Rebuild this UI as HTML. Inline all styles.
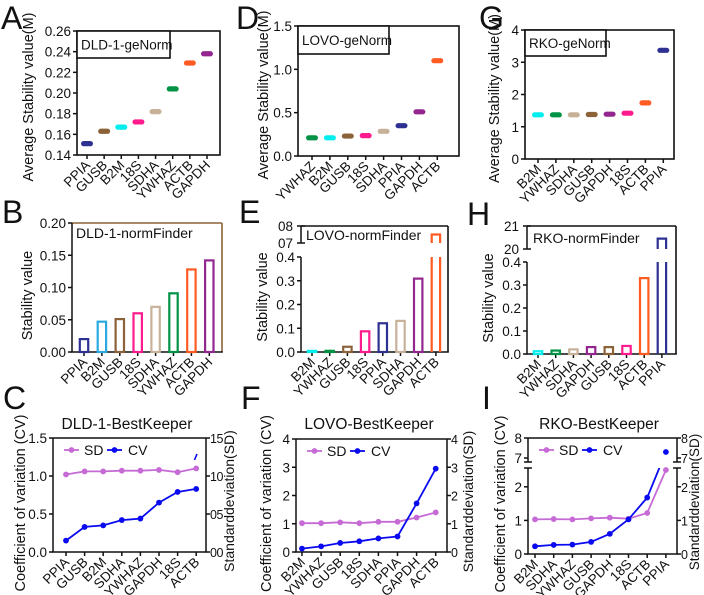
<!DOCTYPE html>
<html><head><meta charset="utf-8"><title>Reference gene stability</title>
<style>html,body{margin:0;padding:0;background:#fff}svg{display:block;font-family:"Liberation Sans",Arial,sans-serif}</style>
</head><body>
<svg id="fig" width="704" height="595" viewBox="0 0 704 595" xmlns="http://www.w3.org/2000/svg"></svg>
<script>
// ---- data ----
const A_genes=["PPIA","GUSB","B2M","18S","SDHA","YWHAZ","ACTB","GAPDH"];
const A_vals=[0.151,0.163,0.167,0.172,0.182,0.204,0.229,0.238];
const A_ticks=[0.14,0.16,0.18,0.20,0.22,0.24,0.26];
const A_tickLabels=["0.14","0.16","0.18","0.20","0.22","0.24","0.26"];
const D_genes=["YWHAZ","B2M","GUSB","18S","SDHA","PPIA","GAPDH","ACTB"];
const D_vals=[0.21,0.21,0.23,0.235,0.285,0.35,0.51,1.10];
const D_ticks=[0,0.5,1.0,1.5];
const D_tickLabels=["0.0","0.5","1.0","1.5"];
const G_genes=["B2M","YWHAZ","SDHA","GUSB","GAPDH","18S","ACTB","PPIA"];
const G_vals=[1.37,1.37,1.37,1.38,1.39,1.42,1.74,3.37];
const G_ticks=[0,1,2,3,4];
const G_tickLabels=["0","1","2","3","4"];
const B_genes=["PPIA","B2M","GUSB","18S","SDHA","YWHAZ","ACTB","GAPDH"];
const B_vals=[0.020,0.047,0.051,0.060,0.070,0.091,0.128,0.142];
const B_ticks=[0,0.05,0.10,0.15,0.20];
const B_tickLabels=["0.00","0.05","0.10","0.15","0.20"];
const E_genes=["B2M","YWHAZ","GUSB","18S","PPIA","SDHA","GAPDH","ACTB"];
const E_vals=[0.005,0.005,0.022,0.087,0.121,0.131,0.309,7.5];
const E_ticks=[0,0.1,0.2,0.3,0.4];
const E_tickLabels=["0.0","0.1","0.2","0.3","0.4"];
const E_upTicks=[7,8];
const E_upLabels=["07","08"];
const H_genes=["B2M","YWHAZ","SDHA","GAPDH","GUSB","18S","ACTB","PPIA"];
const H_vals=[0.012,0.015,0.02,0.03,0.03,0.035,0.33,20.45];
const H_ticks=[0,0.1,0.2,0.3,0.4];
const H_tickLabels=["0.0","0.1","0.2","0.3","0.4"];
const H_upTicks=[20,21];
const H_upLabels=["20","21"];
const C_genes=["PPIA","GUSB","B2M","SDHA","YWHAZ","GAPDH","18S","ACTB"];
const C_cv=[0.15,0.33,0.35,0.42,0.44,0.65,0.79,0.83];
const C_sd=[10.2,10.6,10.6,10.7,10.7,10.8,10.5,11.0];
const C_ticks=[0,0.5,1.0,1.5];
const C_tickLabels=["0.0","0.5","1.0","1.5"];
const C_rightLabels=["00","05","10","15"];
const F_genes=["B2M","YWHAZ","GUSB","18S","SDHA","PPIA","GAPDH","ACTB"];
const F_cv=[0.12,0.20,0.32,0.38,0.48,0.55,1.72,2.95];
const F_sd=[1.02,1.02,1.05,1.02,1.07,1.07,1.22,1.40];
const F_ticks=[0,1,2,3,4];
const F_tickLabels=["0","1","2","3","4"];
const F_rightLabels=["0","1","2","3","4"];
const I_genes=["B2M","SDHA","YWHAZ","GUSB","GAPDH","18S","ACTB","PPIA"];
const I_cv=[0.23,0.27,0.28,0.36,0.60,1.03,1.68,7.3];
const I_sd=[1.03,1.04,1.03,1.06,1.08,1.05,1.22,2.5];
const I_ticks=[0,1,2,7,8];
const I_tickLabels=["0","1","2","7","8"];
const I_rightLabels=["0","1","2","7","8"];

const COL={PPIA:"#2e3192",GUSB:"#8c6239",B2M:"#00eeee","18S":"#ff1b8d",SDHA:"#c7b299",YWHAZ:"#009245",ACTB:"#ff5b22",GAPDH:"#93278f"};
const NS="http://www.w3.org/2000/svg";
const svg=document.getElementById("fig");

function mk(tag,attrs,name,parent){
  const e=document.createElementNS(NS,tag);
  for(const k in attrs) e.setAttribute(k,attrs[k]);
  
  
  (parent||svg).appendChild(e);
  return e;
}
function tx(x,y,s,size,anchor,name,parent,extra){
  const a={x:x,y:y,"font-size":size,"text-anchor":anchor||"start",fill:"#111"};
  if(extra) for(const k in extra) a[k]=extra[k];
  const t=mk("text",a,name,parent);
  t.textContent=s;
  return t;
}
function line(x1,y1,x2,y2,name,g,col,w){
  return mk("line",{x1:x1,y1:y1,x2:x2,y2:y2,stroke:col||"#111","stroke-width":w||1.5},name,g);
}
function letter(x,y,s){tx(x,y,s,32,"start","panel-letter-"+s.toLowerCase(),svg);}
function ytitle(x,cy,s,name,g,size){tx(x,cy,s,size||14.5,"middle",name,g,{transform:"rotate(-90 "+x+" "+cy+")"});}
function xlabels(genes,xs,b,g,size){
  genes.forEach((gn,i)=>{
    const x=xs(i)+4,y=b+11;
    tx(x,y,gn,size||13.5,"end","x-label",g,{transform:"rotate(-45 "+x+" "+y+")"});
    line(xs(i),b,xs(i),b+4,"x-tick",g);
  });
}

function geNorm(p){
  const g=mk("g",{},p.id+"-panel");
  const ys=v=>p.b-(v-p.min)/(p.max-p.min)*(p.b-p.t);
  const xs=i=>p.x0+i*p.dx;
  mk("rect",{x:p.l,y:p.t,width:p.r-p.l,height:p.b-p.t,fill:"none",stroke:"#111","stroke-width":1.6},"plot-frame",g);
  p.ticks.forEach((v,i)=>{line(p.l-4,ys(v),p.l,ys(v),"y-tick",g);tx(p.l-6,ys(v)+5,p.tl[i],13.5,"end","y-tick-label",g);});
  xlabels(p.genes,xs,p.b,g,13.5);
  p.vals.forEach((v,i)=>{
    mk("rect",{x:xs(i)-6,y:ys(v)-2.6,width:12,height:5.2,rx:2.6,fill:COL[p.genes[i]]},"marker-"+p.genes[i],g);
  });
  mk("rect",{x:p.l,y:p.t,width:p.tbR-p.l,height:p.tbB-p.t,fill:"#fff",stroke:"#111","stroke-width":1.6},"title-box",g);
  tx(p.l+4,(p.t+p.tbB)/2+5,p.title,13.5,"start","chart-title",g);
  ytitle(p.yx,(p.t+p.b)/2+4,"Average Stability value(M)","y-axis-title",g);
}

function normFinder(p){
  const g=mk("g",{},p.id+"-panel");
  const lo=v=>p.b-v/p.lmax*(p.b-p.lt);
  const up=p.up?(v=>p.up.yb-(v-p.up.min)/(p.up.max-p.up.min)*(p.up.yb-p.up.yt)):null;
  const xs=i=>p.x0+i*p.dx;
  const top=p.up?p.up.yt:p.lt;
  const fc=p.frameCol||"#111";
  line(p.l,top,p.r,top,"frame-top",g,fc,1.6);
  line(p.r,top,p.r,p.b,"frame-right",g,fc,1.6);
  line(p.l-0.8,p.b,p.r+0.8,p.b,"x-axis",g);
  line(p.l,p.lt,p.l,p.b,"y-axis",g);
  p.ticks.forEach((v,i)=>{line(p.l-4,lo(v),p.l,lo(v),"y-tick",g);tx(p.l-6,lo(v)+5,p.tl[i],13.5,"end","y-tick-label",g);});
  if(p.up){
    line(p.l,p.up.yt,p.l,p.up.yb,"y-axis-upper",g);
    p.up.ticks.forEach((v,i)=>{line(p.l-4,up(v),p.l+4,up(v),"y-tick",g);tx(p.l-8,up(v)+5,p.up.tl[i],13.5,"end","y-tick-label",g);});
  }
  xlabels(p.genes,xs,p.b,g,13.5);
  p.vals.forEach((v,i)=>{
    const c=COL[p.genes[i]]; const x=xs(i)-4.2,w=8.4;
    if(v<=p.lmax){
      mk("rect",{x:x,y:lo(v),width:w,height:p.b-lo(v),fill:"none",stroke:(p.colOverride&&p.colOverride[p.genes[i]])||c,"stroke-width":2.2},"bar-"+p.genes[i],g);
    }else{
      mk("path",{d:"M"+x+" "+p.b+"V"+p.lt+"M"+(x+w)+" "+p.b+"V"+p.lt,fill:"none",stroke:c,"stroke-width":2.2},"bar-"+p.genes[i]+"-lower",g);
      mk("path",{d:"M"+x+" "+p.up.yb+"V"+up(v)+"H"+(x+w)+"V"+p.up.yb,fill:"none",stroke:c,"stroke-width":2.2},"bar-"+p.genes[i]+"-upper",g);
    }
  });
  tx(p.tx,p.ty,p.title,14,"start","chart-title",g);
  ytitle(p.yx,(top+p.b)/2+8,"Stability value","y-axis-title",g);
}

function bestKeeper(p){
  const g=mk("g",{},p.id+"-panel");
  const xs=i=>p.x0+i*p.dx;
  const ys=p.ys;
  line(p.l,p.t,p.r,p.t,"frame-top",g);
  line(p.l-0.8,p.b,p.r+0.8,p.b,"x-axis",g);
  if(p.brk){
    line(p.l,p.t,p.l,p.brk.uEnd,"y-axis-upper",g);line(p.l,p.brk.lTop,p.l,p.b,"y-axis",g);
    line(p.r,p.t,p.r,p.brk.uEnd,"right-axis-upper",g);line(p.r,p.brk.lTop,p.r,p.b,"right-axis",g);
    [p.brk.uEnd,p.brk.lTop].forEach(y=>{line(p.l-4,y,p.l+4,y,"break-mark",g);line(p.r-4,y,p.r+4,y,"break-mark",g);});
  }else{
    line(p.l,p.t,p.l,p.b,"y-axis",g);line(p.r,p.t,p.r,p.b,"right-axis",g);
  }
  p.ticks.forEach((v,i)=>{
    line(p.l-4,ys(v),p.l,ys(v),"y-tick",g);tx(p.l-6,ys(v)+5,p.tl[i],13.5,"end","y-tick-label",g);
    line(p.r,ys(v),p.r+4,ys(v),"right-tick",g);tx(p.r+4,ys(v)+5,p.rl[i],12.5,"start","right-tick-label",g,{"letter-spacing":"-0.5"});
  });
  xlabels(p.genes,xs,p.b,g,13.5);
  const clipId=p.id+"-clip";
  const cp=mk("clipPath",{id:clipId},"clip",g);
  mk("rect",{x:p.l,y:p.brk?p.brk.lTop:p.t,width:p.r-p.l+4,height:p.b-(p.brk?p.brk.lTop:p.t)+4},"clip-rect",cp);
  const series=[{v:p.sd.map(s=>s/p.sdScale),c:"#c66bd6",n:"sd"},{v:p.cv,c:"#0a0af0",n:"cv"}];
  series.forEach(s=>{
    const d=s.v.map((v,i)=>(i?"L":"M")+xs(i).toFixed(1)+" "+ys(v).toFixed(1)).join("");
    mk("path",{d:d,fill:"none",stroke:s.c,"stroke-width":1.8,"clip-path":"url(#"+clipId+")"},s.n+"-line",g);
    s.v.forEach((v,i)=>mk("circle",{cx:xs(i),cy:ys(v),r:2.9,fill:s.c},s.n+"-point",g));
  });
  const ly=p.t+12;
  line(p.l+11,ly,p.l+26,ly,"legend-sd-line",g,"#c66bd6",1.8);
  mk("circle",{cx:p.l+18.5,cy:ly,r:2.9,fill:"#c66bd6"},"legend-sd-marker",g);
  tx(p.l+31,ly+5,"SD",14,"start","legend-sd-label",g);
  line(p.l+54,ly,p.l+69,ly,"legend-cv-line",g,"#0a0af0",1.8);
  mk("circle",{cx:p.l+61.5,cy:ly,r:2.9,fill:"#0a0af0"},"legend-cv-marker",g);
  tx(p.l+75,ly+5,"CV",14,"start","legend-cv-label",g);
  tx(p.tcx,429,p.title,15.5,"middle","chart-title",g);
  ytitle(p.yx,(p.t+p.b)/2+8,"Coefficient of variation (CV)","y-axis-title",g,14.5);
  ytitle(p.ryx,(p.t+p.b)/2+6,"Standarddeviation(SD)","right-axis-title",g,p.rsz||14);
  return g;
}

letter(1,29,"A");letter(236,29,"D");letter(479,29,"G");
letter(2,223,"B");letter(239,223,"E");letter(467,225,"H");
letter(3,409,"C");letter(241,409,"F");letter(482,409,"I");

geNorm({id:"a",genes:A_genes,vals:A_vals,ticks:A_ticks,tl:A_tickLabels,min:0.14,max:0.26,l:77,r:220,t:31,b:155,x0:87,dx:17.14,title:"DLD-1-geNorm",tbR:170,tbB:58,yx:33});
geNorm({id:"d",genes:D_genes,vals:D_vals,ticks:D_ticks,tl:D_tickLabels,min:0,max:1.5,l:298,r:459,t:26,b:156,x0:312,dx:17.9,title:"LOVO-geNorm",tbR:389,tbB:54,yx:268});
geNorm({id:"g",genes:G_genes,vals:G_vals,ticks:G_ticks,tl:G_tickLabels,min:0,max:4,l:525,r:674,t:30,b:159,x0:538,dx:17.9,title:"RKO-geNorm",tbR:606,tbB:56,yx:499});

normFinder({id:"b",genes:B_genes,vals:B_vals,ticks:B_ticks,tl:B_tickLabels,lmax:0.20,l:72,r:222,lt:223,b:352,x0:84,dx:17.9,frameCol:"#8c6239",colOverride:{B2M:"#29abe2"},title:"DLD-1-normFinder",tx:76,ty:238,yx:32});
normFinder({id:"e",genes:E_genes,vals:E_vals,ticks:E_ticks,tl:E_tickLabels,lmax:0.4,l:301,r:448,lt:257,b:352,x0:312,dx:17.7,up:{min:7,max:8,yb:243,yt:226,ticks:E_upTicks,tl:E_upLabels},title:"LOVO-normFinder",tx:306,ty:240,yx:267});
normFinder({id:"h",genes:H_genes,vals:H_vals,ticks:H_ticks,tl:H_tickLabels,lmax:0.4,l:527,r:676,lt:262,b:354,x0:538,dx:17.7,up:{min:20,max:21,yb:249,yt:226,ticks:H_upTicks,tl:H_upLabels},title:"RKO-normFinder",tx:533,ty:243,yx:493});

const cg=bestKeeper({id:"c",genes:C_genes,cv:C_cv,sd:C_sd,sdScale:10,ticks:C_ticks,tl:C_tickLabels,rl:C_rightLabels,l:53,r:206,t:438,b:552,x0:66,dx:18.6,ys:v=>552-v/1.5*114,title:"DLD-1-BestKeeper",tcx:127,yx:25,ryx:234});
line(194.5,460,197,454,"cv-break-mark",cg,"#0a0af0",1.6);
bestKeeper({id:"f",genes:F_genes,cv:F_cv,sd:F_sd,sdScale:1,ticks:F_ticks,tl:F_tickLabels,rl:F_rightLabels,l:296,r:447,t:439,b:552,x0:302,dx:19.1,ys:v=>552-v/4*113,title:"LOVO-BestKeeper",tcx:369,yx:271,ryx:473});
bestKeeper({id:"i",genes:I_genes,cv:I_cv,sd:I_sd,sdScale:1,ticks:I_ticks,tl:I_tickLabels,rl:I_rightLabels,l:528,r:677,t:438,b:554,x0:535,dx:18.7,
  ys:v=>v<=2.5?554-v*33.6:(v<7?470-(v-2.5)/4.5*12:458-(v-7)*20),brk:{uEnd:462,lTop:468},title:"RKO-BestKeeper",tcx:599,yx:505,ryx:699,rsz:13.5});
</script>
</body></html>
